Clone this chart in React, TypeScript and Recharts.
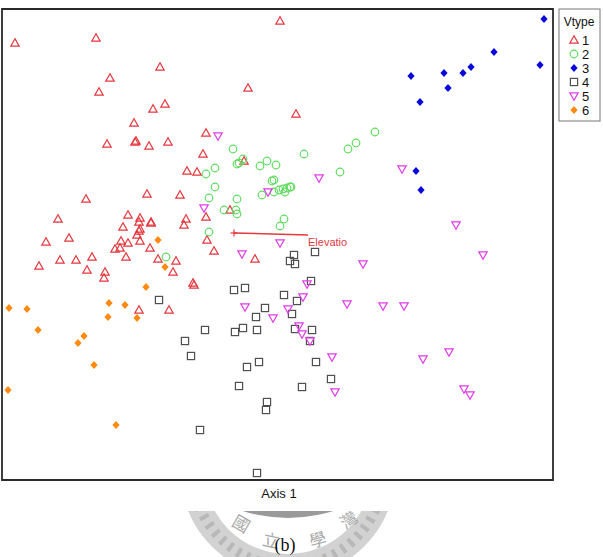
import React from "react"
import { ScatterChart, Scatter, XAxis, YAxis, ReferenceArea, ReferenceLine } from "recharts"

type Pt = { x: number; y: number }

// ordination scores (Axis 1, Axis 2)
const vtype1: Pt[] = [
  { x: -2.19, y: 1.9 }, { x: -1.38, y: 1.95 }, { x: 0.46, y: 2.12 }, { x: -0.74, y: 1.66 },
  { x: -1.24, y: 1.55 }, { x: -1.35, y: 1.41 }, { x: 0.14, y: 1.45 }, { x: -0.69, y: 1.29 },
  { x: -0.81, y: 1.24 }, { x: 0.62, y: 1.19 }, { x: -1.0, y: 1.1 }, { x: -1.27, y: 0.89 },
  { x: -0.99, y: 0.91 }, { x: -0.98, y: 0.92 }, { x: -0.85, y: 0.87 }, { x: -0.66, y: 0.91 },
  { x: -0.28, y: 1.0 }, { x: -0.31, y: 0.79 }, { x: 0.1, y: 0.72 }, { x: -0.47, y: 0.62 },
  { x: -0.37, y: 0.61 }, { x: -0.87, y: 0.39 }, { x: -0.54, y: 0.38 }, { x: -1.48, y: 0.34 },
  { x: -1.06, y: 0.18 }, { x: -0.94, y: 0.15 }, { x: -0.83, y: 0.11 }, { x: -0.83, y: 0.1 },
  { x: -0.48, y: 0.14 }, { x: -0.5, y: 0.08 }, { x: -1.76, y: 0.14 }, { x: -1.11, y: 0.06 },
  { x: -0.95, y: 0.11 }, { x: -0.94, y: 0.04 }, { x: -0.95, y: 0.02 }, { x: -1.88, y: -0.09 },
  { x: -1.65, y: -0.05 }, { x: -0.97, y: -0.02 }, { x: -1.13, y: -0.08 }, { x: -1.06, y: -0.1 },
  { x: -0.94, y: -0.08 }, { x: -1.14, y: -0.15 }, { x: -1.19, y: -0.16 }, { x: -0.84, y: -0.15 },
  { x: -0.76, y: -0.26 }, { x: -0.58, y: -0.28 }, { x: -0.61, y: -0.39 }, { x: -1.74, y: -0.27 },
  { x: -1.58, y: -0.27 }, { x: -1.42, y: -0.24 }, { x: -1.08, y: -0.24 }, { x: -1.95, y: -0.33 },
  { x: -1.47, y: -0.37 }, { x: -1.29, y: -0.39 }, { x: -1.3, y: -0.45 }, { x: -0.41, y: -0.5 },
  { x: -0.4, y: -0.52 }, { x: -0.95, y: -0.77 }, { x: -0.65, y: -0.77 }, { x: -0.28, y: 0.16 },
  { x: -0.04, y: 0.23 }, { x: -0.27, y: -0.07 }, { x: -0.2, y: -0.18 }, { x: 0.21, y: -0.26 },
]

const vtype2: Pt[] = [
  { x: 1.41, y: 1.01 }, { x: 1.22, y: 0.9 }, { x: 1.14, y: 0.84 }, { x: 0.7, y: 0.79 },
  { x: -0.01, y: 0.84 }, { x: 0.09, y: 0.74 }, { x: 0.33, y: 0.72 }, { x: 0.03, y: 0.69 },
  { x: 0.05, y: 0.7 }, { x: 0.26, y: 0.67 }, { x: 0.42, y: 0.68 }, { x: -0.19, y: 0.65 },
  { x: -0.28, y: 0.59 }, { x: -0.19, y: 0.46 }, { x: -0.25, y: 0.35 }, { x: 0.03, y: 0.34 },
  { x: 1.06, y: 0.61 }, { x: 0.38, y: 0.52 }, { x: 0.4, y: 0.53 }, { x: 0.28, y: 0.38 },
  { x: 0.45, y: 0.43 }, { x: 0.49, y: 0.44 }, { x: 0.53, y: 0.45 }, { x: 0.56, y: 0.46 },
  { x: 0.57, y: 0.46 }, { x: 0.51, y: 0.41 }, { x: 0.4, y: 0.41 }, { x: -0.1, y: 0.23 },
  { x: 0.02, y: 0.23 }, { x: 0.03, y: 0.19 }, { x: 0.5, y: 0.14 }, { x: 0.46, y: 0.07 },
  { x: -0.25, y: 0.01 }, { x: -0.68, y: -0.24 },
]

const vtype3: Pt[] = [
  { x: 3.1, y: 2.14 }, { x: 2.6, y: 1.81 }, { x: 3.06, y: 1.68 }, { x: 2.37, y: 1.66 },
  { x: 2.29, y: 1.6 }, { x: 2.1, y: 1.6 }, { x: 1.77, y: 1.57 }, { x: 2.14, y: 1.45 },
  { x: 1.86, y: 1.31 }, { x: 1.82, y: 0.62 }, { x: 1.87, y: 0.43 },
]

const vtype4: Pt[] = [
  { x: -0.75, y: -0.67 }, { x: 0.6, y: -0.22 }, { x: 0.81, y: -0.19 }, { x: 0.56, y: -0.28 },
  { x: 0.61, y: -0.31 }, { x: 0.77, y: -0.48 }, { x: 0.0, y: -0.57 }, { x: 0.11, y: -0.55 },
  { x: 0.5, y: -0.62 }, { x: 0.63, y: -0.68 }, { x: 0.31, y: -0.75 }, { x: 0.58, y: -0.81 },
  { x: 0.22, y: -0.84 }, { x: -0.29, y: -0.97 }, { x: 0.01, y: -0.99 }, { x: 0.09, y: -0.95 },
  { x: 0.23, y: -0.97 }, { x: 0.61, y: -0.96 }, { x: 0.78, y: -0.97 }, { x: 0.76, y: -1.08 },
  { x: -0.49, y: -1.08 }, { x: -0.43, y: -1.23 }, { x: 0.13, y: -1.34 }, { x: 0.25, y: -1.29 },
  { x: 0.82, y: -1.29 }, { x: 0.97, y: -1.46 }, { x: 0.05, y: -1.53 }, { x: 0.68, y: -1.54 },
  { x: 0.33, y: -1.69 }, { x: 0.32, y: -1.77 }, { x: -0.34, y: -1.97 }, { x: 0.23, y: -2.4 },
]

const vtype5: Pt[] = [
  { x: -0.16, y: 0.97 }, { x: 1.68, y: 0.64 }, { x: 0.85, y: 0.55 }, { x: 0.34, y: 0.41 },
  { x: -0.3, y: 0.25 }, { x: 2.22, y: 0.08 }, { x: 0.46, y: -0.1 }, { x: 2.49, y: -0.22 },
  { x: 0.08, y: -0.21 }, { x: 1.29, y: -0.31 }, { x: 0.73, y: -0.51 }, { x: 0.69, y: -0.64 },
  { x: 1.13, y: -0.71 }, { x: 1.49, y: -0.73 }, { x: 1.7, y: -0.73 }, { x: 0.11, y: -0.74 },
  { x: 0.54, y: -0.76 }, { x: 0.39, y: -0.85 }, { x: 0.65, y: -0.93 }, { x: 0.68, y: -1.01 },
  { x: 0.76, y: -1.08 }, { x: 0.98, y: -1.24 }, { x: 1.01, y: -1.59 }, { x: 2.15, y: -1.19 },
  { x: 1.89, y: -1.26 }, { x: 2.3, y: -1.56 }, { x: 2.36, y: -1.62 },
]

const vtype6: Pt[] = [
  { x: -0.76, y: -0.07 }, { x: -0.69, y: -0.34 }, { x: -0.88, y: -0.54 }, { x: -2.25, y: -0.75 },
  { x: -2.07, y: -0.76 }, { x: -1.25, y: -0.7 }, { x: -1.09, y: -0.72 }, { x: -1.26, y: -0.84 },
  { x: -0.97, y: -0.85 }, { x: -1.96, y: -0.97 }, { x: -1.5, y: -1.03 }, { x: -1.56, y: -1.1 },
  { x: -1.4, y: -1.32 }, { x: -2.26, y: -1.57 }, { x: -1.18, y: -1.92 },
]

// fitted environmental vector
const vectorOrigin: Pt[] = [{ x: 0, y: 0 }]
const vectorEnd = [{ x: 0.74, y: -0.02, name: "Elevatio" }]

const legendLabels = ["1", "2", "3", "4", "5", "6"]
const xDomain = [-2.32, 3.19]
const yDomain = [-2.47, 2.24]

const RED = "#e5383f"
const GREEN = "#5fdc5f"
const BLUE = "#0a0ad8"
const GREY = "#505050"
const MAGENTA = "#e03ce8"
const ORANGE = "#ff8a10"

const TriUp = ({ cx, cy, color }: any) => (
  <polygon
    points={`${cx},${cy - 4.2} ${cx - 4.2},${cy + 3.2} ${cx + 4.2},${cy + 3.2}`}
    fill="none"
    stroke={color}
    strokeWidth={1.2}
  />
)
const TriDown = ({ cx, cy, color }: any) => (
  <polygon
    points={`${cx},${cy + 4.2} ${cx - 4.2},${cy - 3.2} ${cx + 4.2},${cy - 3.2}`}
    fill="none"
    stroke={color}
    strokeWidth={1.2}
  />
)
const Ring = ({ cx, cy, color }: any) => <circle cx={cx} cy={cy} r={3.8} fill="none" stroke={color} strokeWidth={1.2} />
const Box = ({ cx, cy, color }: any) => (
  <rect x={cx - 3.6} y={cy - 3.6} width={7.2} height={7.2} fill="none" stroke={color} strokeWidth={1.2} />
)
const Diamond = ({ cx, cy, color }: any) => (
  <polygon points={`${cx},${cy - 4} ${cx + 3.6},${cy} ${cx},${cy + 4} ${cx - 3.6},${cy}`} fill={color} />
)

const symbols = [
  (p: any) => <TriUp {...p} color={RED} />,
  (p: any) => <Ring {...p} color={GREEN} />,
  (p: any) => <Diamond {...p} color={BLUE} />,
  (p: any) => <Box {...p} color={GREY} />,
  (p: any) => <TriDown {...p} color={MAGENTA} />,
  (p: any) => <Diamond {...p} color={ORANGE} />,
]

function Seal() {
  return (
    <svg width={603} height={557} style={{ position: "absolute", left: 0, top: 0 }}>
      <defs>
        <clipPath id="sealclip">
          <rect x={0} y={511} width={603} height={46} />
        </clipPath>
      </defs>
      <g clipPath="url(#sealclip)">
        <circle cx={288} cy={368} r={150} fill="#9a9a9a" />
        <circle cx={288} cy={470} r={96} fill="none" stroke="#d2d2d2" strokeWidth={24} />
        <circle cx={288} cy={470} r={96} fill="none" stroke="#b8b8b8" strokeWidth={10} strokeDasharray="4 6" />
        <g fill="#a8a8a8" fontFamily="Noto Sans CJK TC" fontSize={17}>
          <text x={241} y={530} textAnchor="middle" transform="rotate(30 241 524)">國</text>
          <text x={271} y={547} textAnchor="middle" transform="rotate(12 271 541)">立</text>
          <text x={318} y={546} textAnchor="middle" transform="rotate(-15 318 540)">學</text>
          <text x={349} y={526} textAnchor="middle" transform="rotate(-35 349 520)">灣</text>
        </g>
      </g>
      <text x={279} y={498} textAnchor="middle" fontFamily="Liberation Sans, Arial" fontSize={13} fill="#111">
        Axis 1
      </text>
      <text x={285} y={551} textAnchor="middle" fontFamily="Liberation Serif, serif" fontSize={18} fill="#111">
        (b)
      </text>
    </svg>
  )
}

function VtypeLegend() {
  return (
    <svg width={44} height={116} style={{ position: "absolute", left: 558, top: 8 }}>
      <rect x={1} y={1} width={41} height={112} fill="#fff" stroke="#777" strokeWidth={1} />
      <text x={21} y={18} textAnchor="middle" fontFamily="Liberation Sans, Arial" fontSize={12} fill="#111">
        Vtype
      </text>
      {legendLabels.map((lab, i) => {
        const cy = 32 + i * 14
        return (
          <g key={lab}>
            {symbols[i]({ cx: 16, cy })}
            <text x={24} y={cy + 5} fontFamily="Liberation Sans, Arial" fontSize={13} fill="#111">
              {lab}
            </text>
          </g>
        )
      })}
    </svg>
  )
}

export default function App() {
  const series = [vtype1, vtype2, vtype3, vtype4, vtype5, vtype6]
  return (
    <div style={{ position: "absolute", left: 0, top: 0, width: 603, height: 557, background: "#fff" }}>
      <Seal />
      <div style={{ position: "absolute", left: 0, top: 0 }}>
        <ScatterChart width={603} height={557} margin={{ top: 9, left: 2, right: 50, bottom: 77 }}>
          <XAxis type="number" dataKey="x" domain={xDomain} hide allowDataOverflow />
          <YAxis type="number" dataKey="y" domain={yDomain} hide allowDataOverflow />
          <ReferenceArea
            x1={xDomain[0]}
            x2={xDomain[1]}
            y1={yDomain[0]}
            y2={yDomain[1]}
            fill="none"
            stroke="#2a2a2a"
            strokeWidth={1.8}
            fillOpacity={0}
          />
          {series.map((data, i) => (
            <Scatter key={i} data={data} shape={symbols[i]} isAnimationActive={false} />
          ))}
          <ReferenceLine
            segment={[vectorOrigin[0], { x: vectorEnd[0].x, y: vectorEnd[0].y }]}
            stroke={RED}
            strokeWidth={1.5}
          />
          <Scatter
            data={vectorOrigin}
            isAnimationActive={false}
            shape={(p: any) => (
              <g stroke={RED} strokeWidth={1.2}>
                <line x1={p.cx} y1={p.cy - 3.5} x2={p.cx} y2={p.cy + 3.5} />
                <line x1={p.cx - 3.5} y1={p.cy} x2={p.cx + 3.5} y2={p.cy} />
              </g>
            )}
          />
          <Scatter
            data={vectorEnd}
            isAnimationActive={false}
            shape={(p: any) => (
              <text x={p.cx} y={p.cy + 11} fill={RED} fontFamily="Liberation Sans, Arial" fontSize={11}>
                {p.payload.name}
              </text>
            )}
          />
        </ScatterChart>
      </div>
      <VtypeLegend />
    </div>
  )
}
